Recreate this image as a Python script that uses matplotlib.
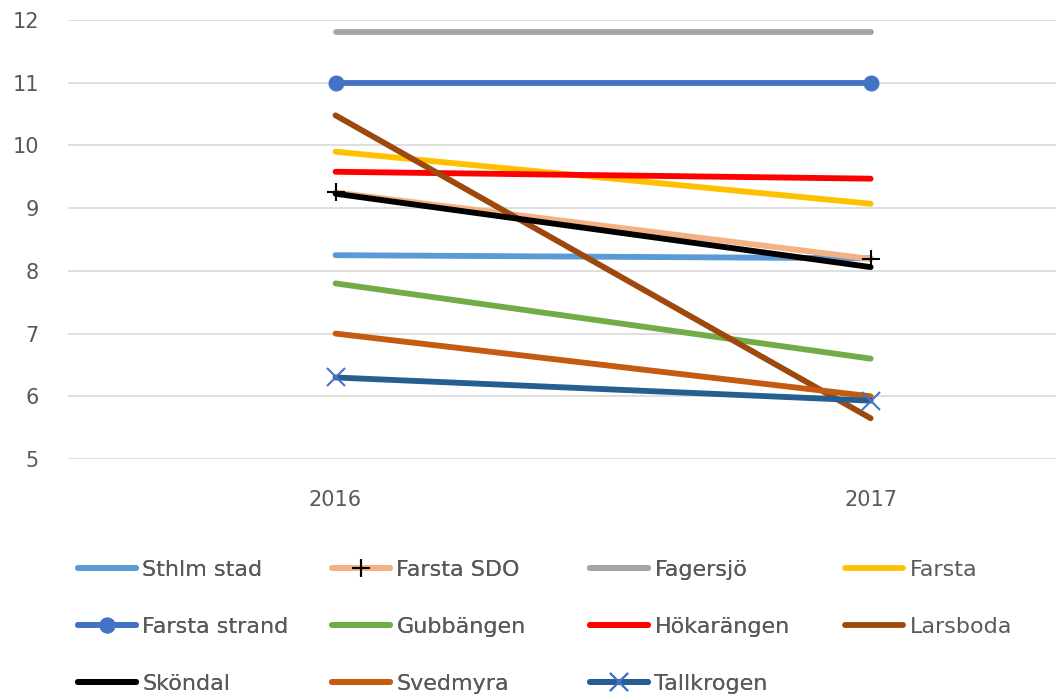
import numpy as np
import matplotlib.pyplot as plt

years = ["2016", "2017"]
names = ["Sthlm stad", "Farsta SDO", "Fagersjö", "Farsta",
         "Farsta strand", "Gubbängen", "Hökarängen", "Larsboda",
         "Sköndal", "Svedmyra", "Tallkrogen"]
sthlm_stad = [8.25, 8.2]
farsta_sdo = [9.25, 8.19]
fagersjo = [11.81, 11.81]
farsta = [9.9, 9.07]
farsta_strand = [11.0, 11.0]
gubbangen = [7.8, 6.6]
hokarangen = [9.58, 9.47]
larsboda = [10.48, 5.65]
skondal = [9.23, 8.06]
svedmyra = [7.0, 6.0]
tallkrogen = [6.3, 5.93]

series = [sthlm_stad, farsta_sdo, fagersjo, farsta, farsta_strand, gubbangen,
          hokarangen, larsboda, skondal, svedmyra, tallkrogen]
colors = ["#5B9BD5", "#F4B183", "#A5A5A5", "#FFC000", "#4472C4", "#70AD47",
          "#FF0000", "#9E480E", "#000000", "#C55A11", "#255E91"]
# marker, marker colour
markers = {"Farsta SDO": ("+", "#000000"),
           "Farsta strand": ("o", "#4472C4"),
           "Tallkrogen": ("x", "#4472C4")}

plt.rcParams["font.family"] = ["DejaVu Sans"]
txt = "#595959"

fig = plt.figure(figsize=(10.56, 6.99), dpi=100)
ax = fig.add_axes([68 / 1056, 1 - 459 / 699, 1 - 68 / 1056, (459 - 20) / 699])

x = np.arange(len(years))
handles = []
for name, vals, c in zip(names, series, colors):
    m, mc = markers.get(name, (None, None))
    kw = {}
    if m:
        kw = dict(marker=m, markersize=10 if m == "o" else 13,
                  markeredgecolor=mc, markerfacecolor=mc, markeredgewidth=1.5)
    ln, = ax.plot(x, vals, color=c, lw=4.2, solid_capstyle="round", label=name, **kw)
    handles.append(ln)

ax.set_ylim(5, 12)
ax.set_xlim(-0.5, (1056 - 337) / 534)
ax.set_yticks(range(5, 13))
ax.set_xticks(x)
ax.set_xticklabels(years)
ax.grid(axis="y", color="#D9D9D9", lw=1.2)
ax.set_axisbelow(True)
for s in ax.spines.values():
    s.set_visible(False)
ax.tick_params(length=0, colors=txt, labelsize=15)
ax.tick_params(axis="y", pad=21)
ax.tick_params(axis="x", pad=22)

# legend: four equal columns, like Excel
col_x = [78, 332, 590, 845]
for ci in range(4):
    hs = handles[ci::4]
    leg = fig.legend(handles=hs, loc="upper left",
                     bbox_to_anchor=(col_x[ci] / 1056, 1 - 560 / 699),
                     frameon=False, fontsize=16, handlelength=2.6,
                     handletextpad=0.3, labelspacing=1.67, labelcolor=txt,
                     borderaxespad=0, borderpad=0)
    if ci < 3:
        fig.add_artist(leg)

fig.savefig("out.png", dpi=100)
